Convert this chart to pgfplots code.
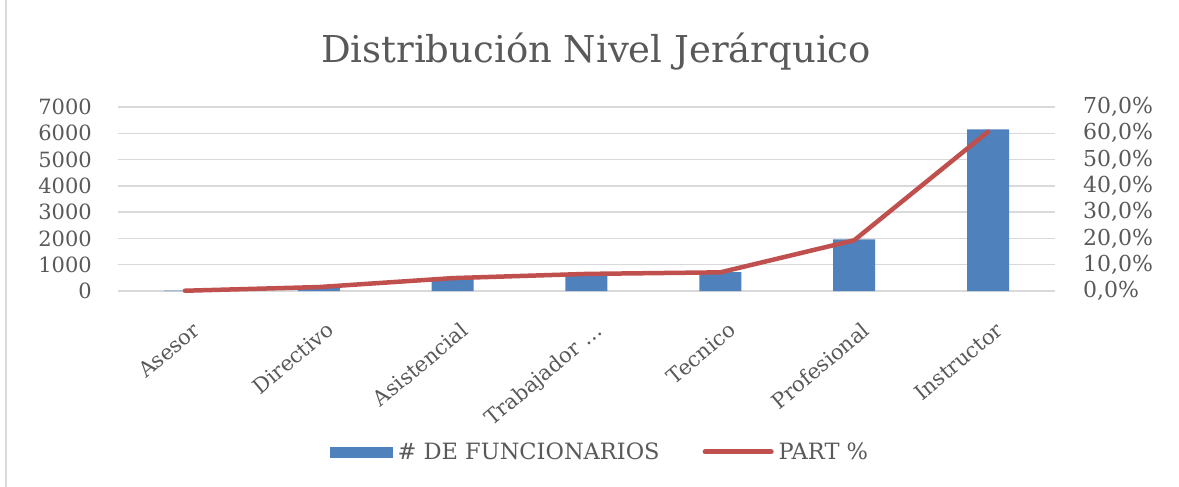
\documentclass[border=0pt]{standalone}
\usepackage{pgfplots}
\pgfplotsset{compat=1.18}
\usepackage{fontspec}
\setmainfont{DejaVu Serif}
\definecolor{barblue}{HTML}{4F81BD}
\definecolor{linered}{HTML}{C0504D}
\definecolor{txtgray}{HTML}{595959}
\definecolor{gridgray}{HTML}{D9D9D9}
\begin{document}
\begin{tikzpicture}
\begin{axis}[
  name=main,
  width=937pt, height=184pt, scale only axis,
  xmin=-0.5, xmax=6.5, ymin=0, ymax=7000,
  ytick={0,1000,...,7000},
  xtick={0,...,6},
  xticklabels={Asesor,Directivo,Asistencial,Trabajador …,Tecnico,Profesional,Instructor},
  x tick label style={rotate=40, anchor=north east, font=\fontsize{21}{22}\selectfont, text=txtgray, inner sep=0pt, xshift=-14pt, yshift=-27pt},
  y tick label style={font=\fontsize{21}{22}\selectfont, text=txtgray, inner sep=0pt, xshift=-26pt},
  yticklabel style={/pgf/number format/1000 sep={}, /pgf/number format/assume math mode=true},
  scaled y ticks=false,
  axis line style={draw=none},
  major tick style={draw=none},
  ymajorgrids, grid style={gridgray, line width=1.5pt},
  xtick pos=bottom, ytick pos=left,
  clip=false,
]
\addplot[ybar, bar width=42pt, fill=barblue, draw=none] coordinates {
  (0,10) (1,150) (2,500) (3,660) (4,720) (5,1960) (6,6150)};
\end{axis}
\begin{axis}[
  width=937pt, height=184pt, scale only axis,
  xmin=-0.5, xmax=6.5, ymin=0, ymax=0.7,
  axis x line=none,
  axis y line*=right,
  axis line style={draw=none},
  major tick style={draw=none},
  ytick={0,0.1,0.2,0.3,0.4,0.5,0.6,0.7},
  yticklabels={{0,0\%},{10,0\%},{20,0\%},{30,0\%},{40,0\%},{50,0\%},{60,0\%},{70,0\%}},
  y tick label style={font=\fontsize{22}{22}\selectfont, text=txtgray, inner sep=0pt, xshift=28pt},
  legend style={at={(0.514,-0.875)}, anchor=center, draw=none, fill=none,
    font=\fontsize{22.5}{24}\selectfont, text=txtgray, legend columns=2,
    nodes={inner sep=1pt},
    /tikz/every odd column/.append style={column sep=4pt},
    /tikz/every even column/.append style={column sep=42pt}},
  clip=false,
]
\addlegendimage{legend image code/.code={\fill[barblue] (0pt,-5pt) rectangle (62pt,5pt);}}
\addlegendentry{\# DE FUNCIONARIOS}
\addplot[linered, line width=4.5pt, line cap=round, line join=round, mark=none,
  legend image code/.code={\draw[linered, line width=5pt, line cap=round] (0pt,0) -- (66pt,0);}]
  coordinates {(0,0.001) (1,0.015) (2,0.049) (3,0.065) (4,0.071) (5,0.193) (6,0.606)};
\addlegendentry{PART \%}
\end{axis}
\pgfresetboundingbox
\path[use as bounding box] (-118pt,-196pt) rectangle (1061pt,291pt);
\draw[gridgray, line width=2pt] (-112pt,-196pt) -- (-112pt,291pt);
\node[txtgray, font=\fontsize{37}{40}\selectfont] at (478pt,239pt) {Distribución Nivel Jerárquico};
\end{tikzpicture}
\end{document}
